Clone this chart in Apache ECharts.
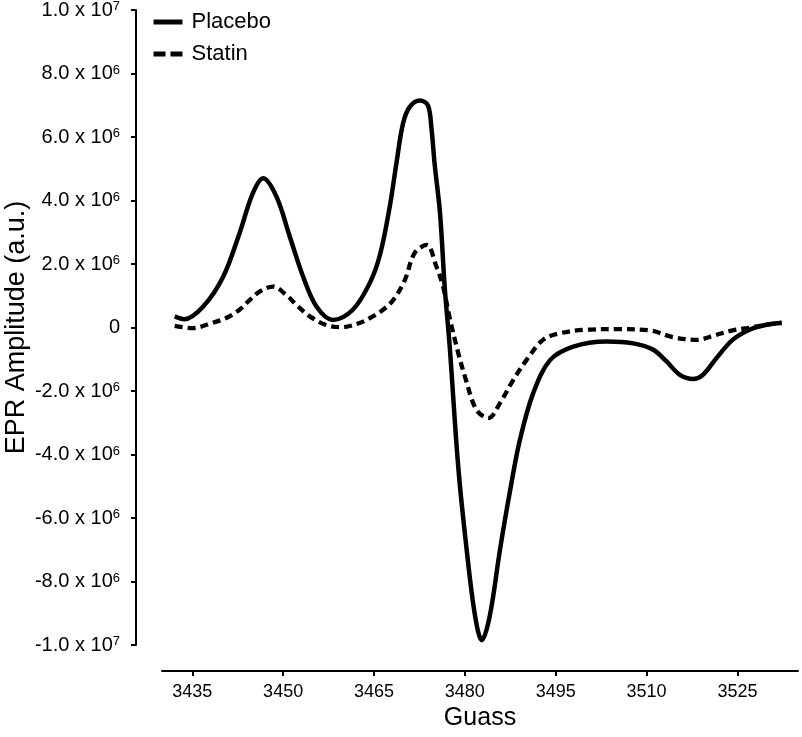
<!DOCTYPE html>
<html>
<head>
<meta charset="utf-8">
<script src="https://cdn.jsdelivr.net/npm/echarts@6/dist/echarts.min.js"></script>
<style>
  html, body { margin: 0; padding: 0; background: #fff; }
  #chart { width: 802px; height: 737px; }
</style>
</head>
<body>
<div id="chart"></div>
<script>
// Gauss values and EPR amplitude (x 10^6, a.u.)
const placeboGauss = [3432.1, 3433.7, 3436.8, 3440.1, 3442.8, 3445.0, 3446.7, 3448.9, 3451.1, 3453.3,
  3455.5, 3458.2, 3461.5, 3464.3, 3466.0, 3467.6, 3468.7, 3469.8, 3470.9, 3472.6,
  3473.9, 3474.5, 3475.0, 3475.9, 3476.7, 3477.5, 3478.9, 3480.3, 3481.7, 3482.8, 3484.1,
  3485.8, 3487.4, 3489.1, 3491.3, 3494.1, 3497.9, 3503.4, 3507.8, 3511.1, 3513.3,
  3515.5, 3517.7, 3519.3, 3521.6, 3524.2, 3527.0, 3529.8, 3532.3]
const placeboAmp = [0.35, 0.26, 0.66, 1.60, 2.97, 4.23, 4.70, 4.12, 2.86, 1.60,
  0.66, 0.24, 0.56, 1.40, 2.30, 3.81, 5.17, 6.43, 6.95, 7.15,
  7.00, 6.25, 5.17, 3.60, 1.20, -0.60, -4.37, -7.00, -9.10, -9.85, -9.10,
  -7.00, -5.21, -3.53, -2.06, -1.02, -0.60, -0.44, -0.50, -0.70, -1.07,
  -1.49, -1.62, -1.49, -0.95, -0.39, -0.07, 0.085, 0.14]

const statinGauss = [3432.1, 3435.1, 3437.9, 3440.6, 3442.8, 3444.5, 3446.1, 3448.3, 3450.5, 3452.2,
  3454.4, 3457.1, 3459.6, 3462.6, 3464.8, 3466.5, 3468.2, 3470.1, 3471.7, 3473.7,
  3475.3, 3476.4, 3477.5, 3478.9, 3480.1, 3481.9, 3483.9, 3485.8, 3488.0, 3490.2,
  3492.9, 3495.7, 3500.1, 3505.1, 3510.5, 3514.3, 3518.3, 3521.0, 3524.2, 3526.6,
  3529.8, 3532.3]
const statinAmp = [0.05, -0.02, 0.12, 0.30, 0.56, 0.87, 1.13, 1.29, 1.03, 0.71,
  0.35, 0.08, 0.01, 0.14, 0.35, 0.56, 0.87, 1.50, 2.34, 2.60,
  1.92, 1.29, 0.30, -0.80, -1.60, -2.59, -2.85, -2.38, -1.65, -1.02,
  -0.39, -0.18, -0.07, -0.05, -0.09, -0.30, -0.39, -0.26, -0.09, -0.02,
  0.085, 0.15]

const xTicks = [3435, 3450, 3465, 3480, 3495, 3510, 3525]

const toPairs = (xs, ys) => xs.map((x, i) => [x, ys[i] * 1e6])

// 8000000 -> "8.0 x 10^6"
const sciLabel = (value) => {
  if (value === 0) return '{a|0}'
  const exp = Math.floor(Math.log10(Math.abs(value)) + 1e-9)
  const mant = (value / Math.pow(10, exp)).toFixed(1)
  return `{a|${mant} x 10}{b|${exp}}`
}

const font = 'Liberation Sans, Arial, sans-serif'
const chart = echarts.init(document.getElementById('chart'))
chart.setOption({
  animation: false,
  textStyle: { fontFamily: font, color: '#000' },
  grid: { left: 162, right: 4, top: 10, bottom: 92, containLabel: false, outerBoundsMode: 'none' },
  legend: {
    orient: 'vertical',
    left: 151,
    top: 11,
    padding: 0,
    itemWidth: 29,
    itemHeight: 20,
    itemGap: 10,
    itemStyle: { opacity: 0 },
    textStyle: { fontFamily: font, fontSize: 22, color: '#000', padding: [0, 0, 0, 4] },
    data: [
      { name: 'Placebo', lineStyle: { width: 5 } },
      { name: 'Statin', lineStyle: { width: 5, type: [12, 5] } },
    ],
  },
  xAxis: {
    type: 'value',
    min: 3430,
    max: 3535,
    offset: 26,
    name: 'Guass',
    nameLocation: 'middle',
    nameGap: 35,
    nameMoveOverlap: false,
    nameTextStyle: { fontFamily: font, fontSize: 25, color: '#000' },
    axisLine: { onZero: false, lineStyle: { color: '#000', width: 2 } },
    axisTick: { length: 5, lineStyle: { color: '#000', width: 2 }, customValues: xTicks },
    axisLabel: {
      fontFamily: font, fontSize: 18, color: '#000', margin: 12,
      customValues: xTicks,
      formatter: (v) => String(v),
    },
    splitLine: { show: false },
  },
  yAxis: {
    type: 'value',
    min: -1e7,
    max: 1e7,
    interval: 2e6,
    offset: 26,
    name: 'EPR Amplitude (a.u.)',
    nameLocation: 'middle',
    nameGap: 106,
    nameMoveOverlap: false,
    nameTextStyle: { fontFamily: font, fontSize: 27, color: '#000' },
    axisLine: { show: true, onZero: false, lineStyle: { color: '#000', width: 2 } },
    axisTick: { show: true, length: 5, lineStyle: { color: '#000', width: 2 } },
    axisLabel: {
      margin: 16,
      formatter: sciLabel,
      rich: {
        a: { fontFamily: font, fontSize: 20, color: '#000', lineHeight: 20 },
        b: { fontFamily: font, fontSize: 13, color: '#000', lineHeight: 14, verticalAlign: 'top' },
      },
    },
    splitLine: { show: false },
  },
  series: [
    {
      name: 'Placebo',
      type: 'line',
      data: toPairs(placeboGauss, placeboAmp),
      showSymbol: false,
      symbol: 'none',
      smooth: 0.35,
      color: '#000',
      lineStyle: { color: '#000', width: 4.5 },
    },
    {
      name: 'Statin',
      type: 'line',
      data: toPairs(statinGauss, statinAmp),
      showSymbol: false,
      symbol: 'none',
      smooth: 0.35,
      color: '#000',
      lineStyle: { color: '#000', width: 4.3, type: [8, 5] },
    },
  ],
})
</script>
</body>
</html>
